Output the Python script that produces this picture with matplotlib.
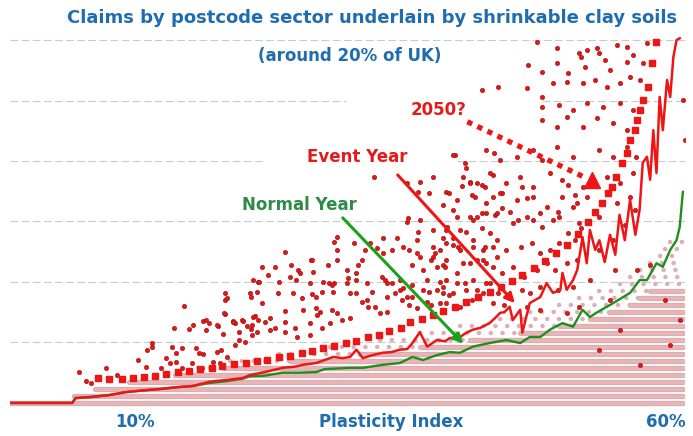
import matplotlib
matplotlib.use("Agg")
import matplotlib.pyplot as plt

W, H = 693, 436

# ---------------- data (x = plasticity index %, y = claims, gridline units) ----------------
event_line = [(-1.8, 0), (4.1, 0), (4.4, 0.08), (6.0, 0.10), (7.6, 0.13), (9.2, 0.18), (11.0, 0.21),
              (12.4, 0.23), (14.0, 0.26), (15.5, 0.28), (17.1, 0.35), (18.7, 0.38), (20.2, 0.41),
              (20.9, 0.46), (22.3, 0.51), (24.0, 0.58), (25.2, 0.60), (25.9, 0.63), (27.2, 0.66),
              (28.0, 0.71), (28.8, 0.76), (29.7, 0.74), (30.4, 0.76), (31.0, 0.88), (31.6, 0.74),
              (32.5, 0.79), (33.5, 0.83), (34.3, 0.84), (35.1, 0.88), (35.8, 0.89), (36.3, 0.99),
              (37.0, 1.17), (37.7, 0.93), (38.6, 1.04), (39.4, 1.02), (39.8, 1.07), (40.8, 1.09),
              (41.4, 1.16), (42.0, 1.21), (42.7, 1.24), (43.6, 1.32), (44.1, 1.40), (44.6, 1.49),
              (45.0, 1.50), (45.5, 1.59), (45.8, 1.37), (46.5, 1.54), (46.7, 1.16), (47.4, 1.65),
              (47.9, 1.70), (48.4, 1.75), (49.0, 1.98), (49.6, 1.82), (50.3, 1.87), (50.5, 2.15),
              (50.9, 1.87), (51.5, 2.03), (51.9, 2.20), (52.4, 2.74), (52.8, 2.31), (53.1, 2.86),
              (53.6, 2.53), (54.0, 2.69), (54.5, 2.33), (55.0, 2.78), (55.5, 2.45), (55.9, 3.11),
              (56.4, 2.69), (56.9, 3.36), (57.4, 2.78), (57.8, 3.19), (58.1, 3.97), (58.5, 4.07),
              (58.8, 3.69), (59.1, 4.51), (59.4, 3.80), (59.7, 5.06), (60.0, 4.51), (60.4, 5.34),
              (60.7, 5.06), (61.0, 5.72), (61.3, 6.00), (61.6, 6.03)]

normal_line = [(-1.8, 0), (4.1, 0), (4.4, 0.08), (6.0, 0.10), (7.6, 0.13), (9.2, 0.18), (11.0, 0.21),
               (12.4, 0.23), (14.0, 0.26), (15.5, 0.28), (17.1, 0.33), (18.7, 0.36), (20.2, 0.40),
               (20.9, 0.44), (22.3, 0.45), (24.0, 0.50), (25.5, 0.50), (27.2, 0.51), (28.0, 0.56),
               (30.4, 0.58), (31.6, 0.58), (33.5, 0.63), (35.1, 0.66), (36.3, 0.76), (37.3, 0.71),
               (38.6, 0.79), (39.8, 0.84), (40.8, 0.83), (42.0, 0.93), (43.6, 0.99), (45.2, 1.04),
               (46.5, 0.99), (47.4, 1.09), (48.4, 1.09), (49.3, 1.21), (50.5, 1.32), (51.5, 1.26),
               (52.4, 1.54), (53.1, 1.42), (53.7, 1.49), (55.3, 1.65), (56.9, 1.82), (57.8, 2.03),
               (58.5, 2.03), (59.4, 2.31), (60.0, 2.25), (60.7, 2.53), (61.3, 2.69), (61.6, 2.91),
               (61.9, 3.49)]

proj_2050 = [(6.5, 0.41), (7.6, 0.40), (8.8, 0.40), (9.8, 0.41), (10.9, 0.43), (11.9, 0.45),
             (13.0, 0.48), (14.1, 0.51), (15.1, 0.53), (16.2, 0.56), (17.3, 0.58), (18.3, 0.61),
             (19.4, 0.64), (20.5, 0.66), (21.6, 0.69), (22.5, 0.71), (23.7, 0.76), (24.7, 0.78),
             (25.8, 0.83), (26.8, 0.86), (27.8, 0.91), (28.9, 0.94), (30.0, 0.99), (31.0, 1.02),
             (32.1, 1.09), (33.1, 1.12), (34.1, 1.19), (35.2, 1.24), (36.1, 1.34), (37.2, 1.39),
             (38.2, 1.45), (39.2, 1.52), (40.3, 1.59), (41.4, 1.67), (42.5, 1.75), (43.6, 1.83),
             (44.7, 1.92), (45.7, 2.02), (46.7, 2.12), (47.8, 2.23), (48.8, 2.35), (49.9, 2.48),
             (50.9, 2.61), (52.0, 2.79), (52.9, 2.99), (53.6, 3.16), (54.2, 3.31), (54.8, 3.47),
             (55.2, 3.57), (55.6, 3.74), (56.1, 3.97), (56.6, 4.13), (56.9, 4.35), (57.4, 4.51),
             (57.6, 4.68), (57.8, 4.84), (58.1, 5.01), (58.6, 5.22), (59.0, 5.62), (59.4, 5.97)]

event_dots = [
    (14.7, 1.60), (18.6, 1.70), (18.6, 1.47), (21.4, 1.44), (13.7, 1.24), (15.1, 1.22), (15.5, 1.29),
    (16.5, 1.36), (17.0, 1.32), (17.9, 1.27), (19.3, 1.36), (19.5, 1.32), (20.3, 1.36), (20.6, 1.27),
    (16.8, 1.21), (18.4, 1.14), (19.9, 1.17), (21.0, 1.22), (11.6, 0.99), (11.6, 0.93), (11.2, 0.88),
    (13.5, 0.93), (14.5, 0.91), (13.9, 0.83), (10.3, 0.71), (13.0, 0.74), (13.9, 0.68), (16.1, 0.83),
    (15.8, 0.91), (16.5, 0.81), (17.8, 0.84), (18.2, 0.88), (18.7, 0.76), (19.5, 0.96), (19.9, 1.04),
    (20.4, 1.01), (21.1, 1.12), (4.7, 0.51), (5.4, 0.36), (5.9, 0.33), (7.3, 0.58), (8.3, 0.46),
    (11.1, 0.60), (12.5, 0.58), (13.3, 0.66), (14.5, 0.58), (15.4, 0.66), (16.4, 0.58), (17.4, 0.68),
    (18.1, 0.66),
    (22.1, 2.25), (24.8, 2.28), (25.5, 2.20), (25.7, 2.15), (26.7, 2.36), (28.3, 2.28), (29.2, 2.36),
    (29.2, 2.53), (31.0, 2.15), (30.2, 2.07), (28.9, 1.98), (28.4, 1.98), (21.7, 2.00), (21.6, 1.83),
    (21.0, 1.75), (23.6, 1.82), (25.0, 1.82), (26.8, 1.80), (27.7, 1.83), (25.8, 1.74), (22.1, 1.65),
    (24.2, 1.52), (25.9, 1.54), (27.2, 1.57), (27.5, 1.50), (27.3, 1.45), (28.7, 1.54), (29.2, 1.49),
    (29.6, 1.37), (30.4, 1.41), (31.0, 1.82), (31.5, 1.67), (32.0, 1.70), (32.1, 1.59), (32.8, 1.59),
    (33.2, 1.49), (33.9, 1.50), (33.4, 2.08), (33.7, 2.03), (33.9, 1.98), (34.4, 1.98), (34.6, 1.82),
    (35.1, 1.87), (35.4, 1.90), (35.3, 1.70), (35.8, 1.75), (36.0, 1.62), (36.7, 1.57), (36.3, 2.28),
    (37.0, 2.41), (37.3, 2.20), (38.1, 2.36), (38.4, 2.48), (38.6, 2.25), (38.6, 1.87), (39.2, 1.82),
    (39.5, 2.03), (37.3, 1.87), (37.7, 1.67), (38.1, 1.62), (38.9, 1.65), (39.2, 2.28), (21.2, 1.42),
    (21.7, 1.37), (22.8, 1.41), (22.3, 1.34), (21.6, 1.17), (23.3, 1.24), (24.2, 1.34), (25.2, 1.24),
    (26.6, 1.32), (27.7, 1.24), (28.5, 1.32), (25.4, 1.09), (26.6, 1.12), (24.2, 1.17), (22.8, 1.21),
    (40.3, 4.10), (44.0, 4.13), (41.3, 3.97), (41.4, 3.88), (32.7, 3.74), (38.2, 3.74), (37.0, 3.65),
    (35.8, 3.64), (39.5, 3.49), (37.9, 3.47), (36.8, 3.49), (39.8, 3.47), (41.7, 3.65), (42.9, 3.60),
    (43.9, 3.77), (43.9, 3.41), (42.2, 3.41), (39.2, 3.27), (40.5, 3.36), (41.7, 3.07), (44.1, 3.11),
    (42.9, 3.14), (35.9, 3.06), (35.8, 2.99), (37.0, 3.03), (38.2, 2.86), (39.5, 2.86), (40.8, 2.86),
    (41.4, 2.83), (42.9, 2.89), (43.6, 2.81), (36.8, 2.83), (39.2, 2.73), (40.1, 2.73), (36.7, 2.69),
    (34.8, 2.73), (33.5, 2.73), (32.3, 2.64), (31.8, 2.53), (30.8, 2.64), (29.2, 2.74), (28.9, 2.66),
    (24.2, 2.50), (26.8, 2.36), (23.3, 2.25), (26.9, 2.17), (30.1, 2.20), (31.1, 2.28), (31.5, 2.36),
    (32.9, 2.56), (33.5, 2.48), (34.4, 2.53), (35.4, 2.58), (36.0, 2.53), (36.7, 2.48), (38.2, 2.58),
    (38.9, 2.53), (40.1, 2.61), (40.8, 2.53), (42.0, 2.58), (43.0, 2.53), (43.9, 2.58), (38.2, 2.41),
    (39.5, 2.36), (41.1, 2.31), (42.4, 2.36), (43.3, 2.31), (44.3, 2.41), (21.2, 2.03), (21.8, 2.00),
    (22.6, 2.12), (23.7, 2.00), (24.7, 2.08), (25.3, 2.03), (26.6, 1.98), (27.8, 2.00), (28.7, 1.95),
    (30.1, 1.98), (31.0, 2.03), (32.0, 1.98), (35.1, 2.03), (36.3, 1.95), (37.7, 2.03), (38.9, 2.00),
    (40.5, 1.98), (42.0, 2.03), (43.3, 1.98), (18.6, 1.82), (18.7, 1.74), (20.9, 1.82), (27.2, 1.75),
    (28.8, 1.83), (30.4, 1.82), (32.5, 1.83), (33.9, 1.75), (36.3, 1.75), (37.9, 1.83), (39.8, 1.78),
    (41.4, 1.87), (43.0, 1.82), (16.8, 1.37), (17.8, 1.29), (18.5, 1.49), (19.3, 1.34), (20.2, 1.37),
    (21.1, 1.29),
    (41.0, 3.59), (41.7, 3.64), (43.2, 3.57), (41.9, 3.44), (40.1, 3.19), (39.6, 2.91), (42.4, 3.07),
    (43.3, 3.14), (44.8, 3.47), (44.8, 3.22), (45.5, 3.16), (46.7, 3.57), (47.1, 3.39), (46.3, 3.03),
    (47.7, 3.03), (48.4, 3.14), (48.6, 2.91), (49.6, 3.03), (50.1, 3.16), (51.0, 3.60), (51.7, 3.44),
    (51.9, 3.31), (52.4, 3.57), (51.0, 2.81), (50.2, 2.64), (51.7, 2.69), (52.3, 2.89), (39.5, 2.64),
    (40.6, 2.58), (42.0, 2.69), (43.2, 2.58), (44.3, 2.69), (45.2, 2.53), (46.6, 2.58), (47.6, 2.64),
    (48.4, 2.48), (49.3, 2.53), (39.4, 2.25), (40.5, 2.15), (41.7, 2.31), (43.0, 2.36), (43.9, 2.25),
    (44.8, 2.15), (45.8, 2.25), (46.9, 2.08), (48.1, 2.20), (49.0, 2.31), (49.8, 2.20), (50.9, 2.31),
    (51.9, 2.36), (39.2, 1.92), (40.1, 1.82), (41.3, 1.98), (42.4, 1.87), (43.6, 1.98), (44.4, 1.82),
    (46.7, 1.87), (47.4, 1.82), (48.4, 1.92), (50.1, 1.87), (51.5, 1.92), (39.5, 1.65), (40.8, 1.59),
    (41.9, 1.70), (43.9, 1.65), (45.0, 1.62), (47.1, 1.59), (48.4, 1.54), (50.9, 1.49), (52.1, 1.59),
    (48.1, 5.97), (50.0, 5.87), (52.1, 5.79), (52.8, 5.84), (53.8, 5.87), (55.7, 5.92), (56.6, 5.88),
    (58.5, 5.95), (47.2, 5.59), (48.6, 5.47), (50.0, 5.62), (51.0, 5.45), (52.3, 5.72), (52.6, 5.55),
    (54.0, 5.79), (54.5, 5.67), (55.0, 5.50), (56.6, 5.64), (57.2, 5.75), (58.1, 5.62), (42.9, 5.17),
    (44.4, 5.22), (47.1, 5.21), (48.6, 5.06), (49.6, 5.29), (50.9, 5.31), (52.4, 5.29), (53.6, 5.34),
    (54.7, 5.22), (55.9, 5.29), (56.9, 5.39), (57.8, 5.34), (48.6, 4.89), (50.2, 4.93), (51.5, 4.84),
    (52.8, 4.96), (54.3, 4.89), (55.9, 4.96), (57.2, 4.84), (48.6, 4.68), (50.0, 4.56), (50.9, 4.73),
    (52.4, 4.56), (53.8, 4.71), (55.3, 4.63), (56.6, 4.51), (57.5, 4.68), (40.1, 4.10), (43.3, 4.18),
    (44.6, 4.02), (46.2, 4.07), (47.7, 4.18), (48.6, 4.02), (50.0, 4.23), (51.5, 4.07), (54.0, 4.18),
    (55.3, 4.07), (56.6, 4.23), (57.5, 4.07), (41.1, 3.74), (42.4, 3.64), (43.6, 3.80), (45.2, 3.64),
    (46.5, 3.74), (47.7, 3.57), (49.3, 3.80), (50.5, 3.69), (54.7, 3.74), (55.9, 3.64), (57.2, 3.80),
    (43.3, 3.31), (44.6, 3.47), (46.2, 3.36), (47.7, 3.41), (49.0, 3.24), (50.5, 3.41), (51.5, 3.24),
    (52.8, 3.41), (55.7, 3.31), (56.9, 3.41), (40.5, 3.07), (42.0, 3.03), (44.3, 3.14), (45.8, 2.98),
    (47.1, 3.07), (50.2, 3.07), (52.1, 2.98), (54.0, 3.07),
    (57.6, 2.20), (58.8, 2.28), (60.2, 1.70), (61.6, 1.37), (60.7, 0.96), (55.9, 1.21), (54.0, 0.88),
    (57.8, 0.63), (55.0, 1.70), (62.1, 4.35), (62.4, 5.67), (61.9, 5.01), (54.0, 2.53), (55.3, 2.69),
    (56.4, 2.94), (57.4, 3.19), (55.5, 2.20), (53.1, 2.03),
]

# normal-year sector rows (claims level, x where the row becomes dense, x where scattered points begin)
pink_levels       = [0.00, 0.12, 0.23, 0.35, 0.46, 0.58, 0.69, 0.81, 0.93, 1.04, 1.16, 1.27,
                     1.39, 1.50, 1.62, 1.74, 1.85, 1.97, 2.08, 2.20, 2.31, 2.43, 2.55, 2.66]
pink_dense_start  = [-1.8, 4.3, 6.2, 9.5, 13.8, 18.5, 24.7, 31.3, 37.0, 41.7, 46.5, 50.2,
                     53.1, 54.9, 56.9, 57.8, 58.8, None, None, None, None, None, None, None]
pink_sparse_start = [-1.8, 4.3, 6.2, 9.5, 12.0, 16.0, 19.0, 23.7, 28.5, 33.2, 37.0, 40.8,
                     44.6, 47.4, 50.2, 52.1, 54.0, 55.9, 56.9, 57.8, 58.8, 59.7, 60.2, 60.7]
x_last = 61.9

grid_levels = [0, 1, 2, 3, 4, 5, 6]
grid_gaps = {4: (22.3, 40.5), 5: (30.0, 48.6)}

# ---------------- figure ----------------
BLUE = '#1f6db0'
RED = '#f01515'
GREEN_TXT = '#2e8b46'
GREEN = '#1d8f1d'

fig = plt.figure(figsize=(W / 100, H / 100), dpi=100)
ax = fig.add_axes([10 / W, (H - 412) / H, 675 / W, (412 - 34) / H])
ax.set_xlim(-1.8, 62.1)
ax.set_ylim(-0.15, 6.1)
ax.axis('off')

x0, x1 = ax.get_xlim()
for g in grid_levels:
    segs = [(x0, x1)]
    if g in grid_gaps:
        a, b = grid_gaps[g]
        segs = [(x0, a), (b, x1)]
    for a, b in segs:
        ax.plot([a, b], [g, g], color='#cacaca', lw=0.8, ls=(0, (7, 3)), zorder=0)

# pink rows
for lev, ds, ss in zip(pink_levels, pink_dense_start, pink_sparse_start):
    if ss is not None:
        end_sparse = ds if ds is not None else x_last
        ax.plot([ss, end_sparse], [lev, lev], color='#dcb0b3', lw=3.2,
                ls=(0, (0.05, 2.6)), dash_capstyle='round', zorder=1)
    if ds is not None:
        ax.plot([ds, x_last], [lev, lev], color='#cfb0b3', lw=3.8, solid_capstyle='round', zorder=1)
        ax.plot([ds, x_last], [lev, lev], color='#ebb3b5', lw=2.5, solid_capstyle='round', zorder=1)

dx, dy = zip(*event_dots)
ax.scatter(dx, dy, s=10, color='#e01818', edgecolors='#a50d0d', linewidths=0.4, zorder=3)

px_, py_ = zip(*proj_2050)
ax.plot(px_, py_, 's', ms=4.8, color=RED, mec=RED, zorder=4)

nx, ny = zip(*normal_line)
ax.plot(nx, ny, color=GREEN, lw=1.7, zorder=5)
ex, ey = zip(*event_line)
ax.plot(ex, ey, color=RED, lw=1.8, zorder=6)

# annotations
ax.annotate('', xy=(46.0, 1.65), xytext=(34.9, 3.77),
            arrowprops=dict(arrowstyle='-|>', color=RED, lw=2.2, mutation_scale=14,
                            shrinkA=0, shrinkB=0), zorder=7)
ax.annotate('', xy=(41.1, 0.98), xytext=(29.7, 3.06),
            arrowprops=dict(arrowstyle='-|>', color='#1aa01a', lw=2.2, mutation_scale=14,
                            shrinkA=0, shrinkB=0), zorder=7)
ax.plot([41.5, 52.6], [4.65, 3.73], color=RED, lw=3.8, ls=(0, (1, 1.1)),
        dash_capstyle='butt', zorder=7)
ax.plot([53.3], [3.68], '^', ms=11, color=RED, zorder=7)

ax.text(31.1, 4.07, 'Event Year', color='#e41b1b', fontsize=12, fontweight='bold',
        ha='center', va='center', zorder=8)
ax.text(25.6, 3.27, 'Normal Year', color=GREEN_TXT, fontsize=12, fontweight='bold',
        ha='center', va='center', zorder=8)
ax.text(38.8, 4.84, '2050?', color='#e41b1b', fontsize=12, fontweight='bold',
        ha='center', va='center', zorder=8)

def fx(px):
    return px / W

def fy(py):
    return 1 - py / H

fig.text(fx(372), fy(18), 'Claims by postcode sector underlain by shrinkable clay soils',
         color=BLUE, fontsize=13, fontweight='bold', ha='center', va='center')
fig.text(fx(350), fy(56), '(around 20% of UK)', color=BLUE, fontsize=12, fontweight='bold',
         ha='center', va='center')
fig.text(fx(135), fy(422), '10%', color=BLUE, fontsize=12, fontweight='bold', ha='center', va='center')
fig.text(fx(391), fy(422), 'Plasticity Index', color=BLUE, fontsize=12, fontweight='bold',
         ha='center', va='center')
fig.text(fx(666), fy(422), '60%', color=BLUE, fontsize=12, fontweight='bold', ha='center', va='center')

fig.savefig('out.png', dpi=100)
